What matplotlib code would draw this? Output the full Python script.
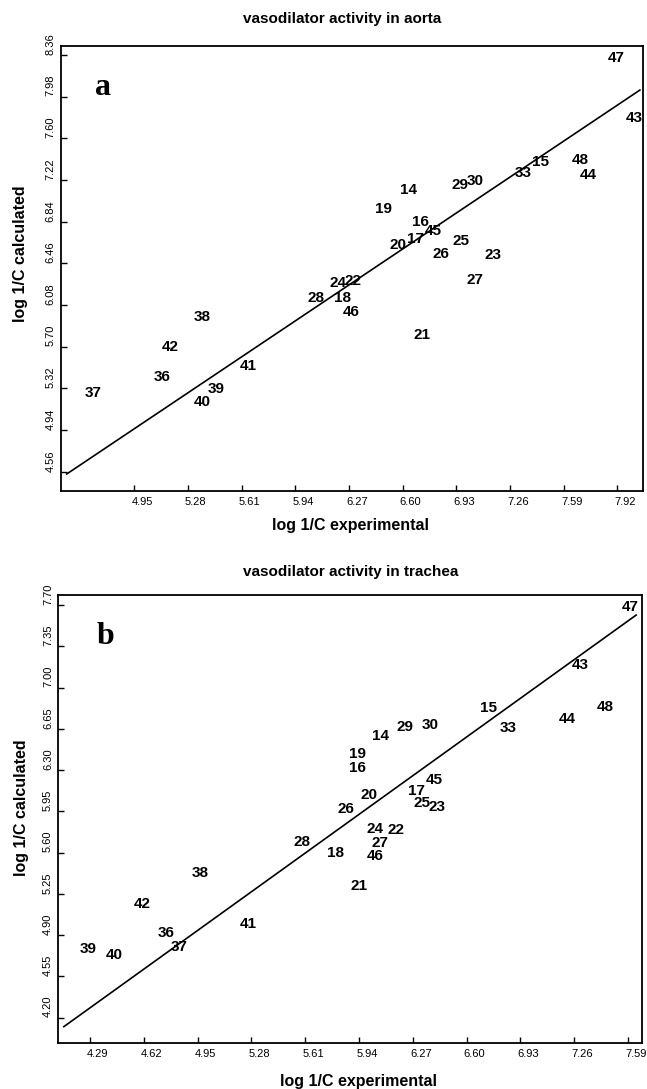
import numpy as np
import matplotlib.pyplot as plt
from matplotlib.transforms import ScaledTranslation

# ---- panel a : aorta ------------------------------------------------------
ids_a  = ['47', '43', '48', '44', '15', '33', '29', '30', '14', '19', '16', '45',
          '17', '20', '25', '26', '23', '27', '24', '22', '18', '46', '21', '28',
          '38', '42', '36', '37', '41', '39', '40']
exp_a  = [7.916, 8.022, 7.690, 7.741, 7.445, 7.343, 6.954, 7.046, 6.635, 6.484, 6.709, 6.787,
          6.678, 6.570, 6.959, 6.836, 7.155, 7.046, 6.202, 6.296, 6.229, 6.284, 6.719, 6.065,
          5.370, 5.169, 5.120, 4.695, 5.649, 5.451, 5.370]
calc_a = [8.335, 7.783, 7.403, 7.262, 7.385, 7.287, 7.175, 7.207, 7.129, 6.956, 6.840, 6.758,
          6.680, 6.628, 6.664, 6.546, 6.537, 6.309, 6.284, 6.300, 6.149, 6.014, 5.808, 6.142,
          5.974, 5.695, 5.422, 5.276, 5.525, 5.313, 5.200]
fit_a_x = [4.535, 8.059]
fit_a_y = [4.540, 8.040]
xticks_a = [4.95, 5.28, 5.61, 5.94, 6.27, 6.60, 6.93, 7.26, 7.59, 7.92]
yticks_a = [4.56, 4.94, 5.32, 5.70, 6.08, 6.46, 6.84, 7.22, 7.60, 7.98, 8.36]

# ---- panel b : trachea ----------------------------------------------------
ids_b  = ['47', '43', '15', '48', '44', '33', '29', '30', '14', '19', '16', '45',
          '17', '20', '25', '23', '26', '24', '22', '27', '18', '46', '21', '28',
          '38', '42', '41', '36', '37', '39', '40']
exp_b  = [7.603, 7.296, 6.734, 7.450, 7.215, 6.856, 6.223, 6.376, 6.069, 5.930, 5.930, 6.400,
          6.290, 6.002, 6.325, 6.417, 5.859, 6.038, 6.167, 6.069, 5.797, 6.038, 5.942, 5.589,
          4.965, 4.613, 5.259, 4.758, 4.839, 4.282, 4.439]
calc_b = [7.686, 7.191, 6.824, 6.837, 6.733, 6.654, 6.668, 6.682, 6.593, 6.434, 6.315, 6.216,
          6.125, 6.088, 6.020, 5.989, 5.970, 5.798, 5.792, 5.684, 5.594, 5.571, 5.317, 5.692,
          5.429, 5.164, 4.994, 4.921, 4.802, 4.780, 4.731]
fit_b_x = [4.130, 7.640]
fit_b_y = [4.123, 7.615]
xticks_b = [4.29, 4.62, 4.95, 5.28, 5.61, 5.94, 6.27, 6.60, 6.93, 7.26, 7.59]
yticks_b = [4.20, 4.55, 4.90, 5.25, 5.60, 5.95, 6.30, 6.65, 7.00, 7.35, 7.70]

plt.rcParams['font.family'] = ['Liberation Sans', 'DejaVu Sans']

fig = plt.figure(figsize=(6.47, 10.89), dpi=100)


def panel(rect, ids, xs, ys, fx, fy, xticks, yticks, xlim, ylim,
          title, title_pos, letter, letter_pos, ylab_pos, xlab_pos):
    ax = fig.add_axes(rect)
    for s, x, y in zip(ids, xs, ys):
        ax.text(x, y, s, ha='center', va='center', fontsize=11, fontweight='bold')
    ax.plot(fx, fy, color='black', linewidth=1.2)
    ax.set_xlim(xlim)
    ax.set_ylim(ylim)
    ax.set_xticks(xticks)
    ax.set_yticks(yticks)
    ax.set_xticklabels(['%.2f' % v for v in xticks])
    ax.set_yticklabels(['%.2f' % v for v in yticks], rotation=90, va='center')
    ax.tick_params(direction='in', length=4, width=1, labelsize=8, pad=4)
    for sp in ax.spines.values():
        sp.set_linewidth(1.3)
    # tick labels sit a bit off their ticks in the original
    for lab in ax.get_xticklabels():
        lab.set_transform(lab.get_transform() + ScaledTranslation(0.08, 0, fig.dpi_scale_trans))
    for lab in ax.get_yticklabels():
        lab.set_transform(lab.get_transform() + ScaledTranslation(0, 0.11, fig.dpi_scale_trans))
    ax.set_ylabel('log 1/C calculated', fontsize=11.5, fontweight='bold', va='center')
    ax.yaxis.set_label_coords(*ylab_pos)
    ax.set_xlabel('log 1/C experimental', fontsize=11.5, fontweight='bold', va='center')
    ax.xaxis.set_label_coords(*xlab_pos)
    ax.text(letter_pos[0], letter_pos[1], letter, transform=ax.transAxes,
            ha='center', va='center', fontsize=23, fontweight='bold',
            family='Liberation Serif')
    fig.text(title_pos[0], title_pos[1], title, ha='center', va='center',
             fontsize=11, fontweight='bold')
    return ax


panel([0.0943, 0.5491, 0.8995, 0.4087], ids_a, exp_a, calc_a, fit_a_x, fit_a_y,
      xticks_a, yticks_a, (4.50, 8.078), (4.385, 8.442),
      'vasodilator activity in aorta', (0.529, 0.9826),
      'a', (0.072, 0.906), (-0.0704, 0.534), (0.498, -0.0764))

panel([0.0904, 0.0420, 0.9014, 0.4116], ids_b, exp_b, calc_b, fit_b_x, fit_b_y,
      xticks_b, yticks_b, (4.097, 7.674), (3.982, 7.785),
      'vasodilator activity in trachea', (0.5425, 0.4747),
      'b', (0.080, 0.9085), (-0.0626, 0.526), (0.514, -0.0863))

plt.savefig('out.png', dpi=100)
